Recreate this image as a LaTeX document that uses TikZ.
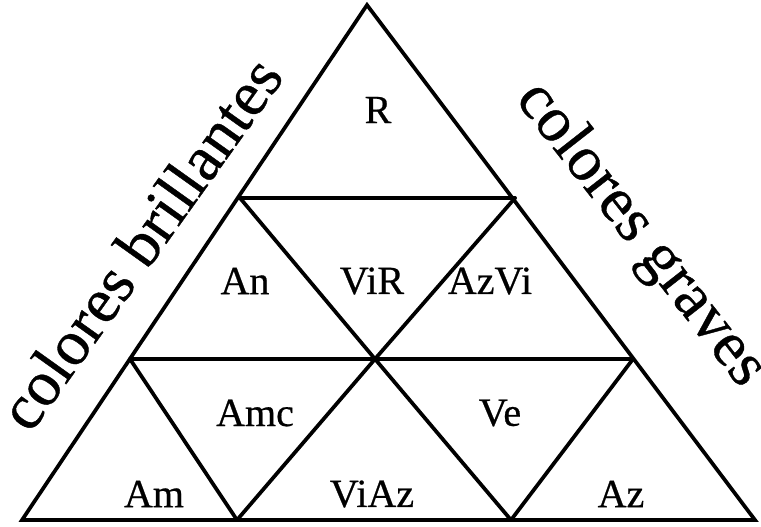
\documentclass[tikz,border=0pt]{standalone}
\usepackage{fontspec}
\setmainfont{Liberation Serif}
\newfontfamily\scanfont[FakeBold=0.6]{Liberation Serif}
\begin{document}
\begin{tikzpicture}[x=0.75pt,y=-0.75pt,
  edge/.style={line width=2.8pt, line join=miter, line cap=round},
  lbl/.style={inner sep=0pt, font=\scanfont\fontsize{30}{32}\selectfont},
  side/.style={inner sep=0pt, font=\scanfont\fontsize{48}{52}\selectfont}]
\useasboundingbox (0,0) rectangle (761,526);
% vertices
\coordinate (T) at (367,5);
\coordinate (BL) at (22,520);
\coordinate (BR) at (755,520);
\coordinate (ML1) at (240,198);
\coordinate (MR1) at (515,198);
\coordinate (ML2) at (130,359);
\coordinate (MC2) at (375,359);
\coordinate (MR2) at (633,359);
\coordinate (B1) at (237,520);
\coordinate (B2) at (511,520);
% outline
\draw[edge] (BL) -- (T) -- (BR) -- cycle;
% horizontal lines
\draw[edge] (ML1) -- (MR1);
\draw[edge] (ML2) -- (MR2);
% diagonals
\draw[edge] (ML1) -- (MC2) -- (B2);
\draw[edge] (MR1) -- (MC2) -- (B1);
\draw[edge] (ML2) -- (B1);
\draw[edge] (MR2) -- (B2);
% labels
\node[lbl] (r) at (378,110) {R};
\node[lbl] (an) at (245,281) {An};
\node[lbl] (vir) at (372,281) {ViR};
\node[lbl] (azvi) at (490,281) {AzVi};
\node[lbl] (amc) at (255,413) {Amc};
\node[lbl] (ve) at (500,413) {Ve};
\node[lbl] (am) at (154,494) {Am};
\node[lbl] (viaz) at (372,494) {ViAz};
\node[lbl] (az) at (621,494) {Az};
% side texts
\node[side, rotate=54.5] (bril) at (140,243) {colores brillantes};
\node[side, rotate=-52] (grav) at (640,235) {colores graves};
\end{tikzpicture}
\end{document}
